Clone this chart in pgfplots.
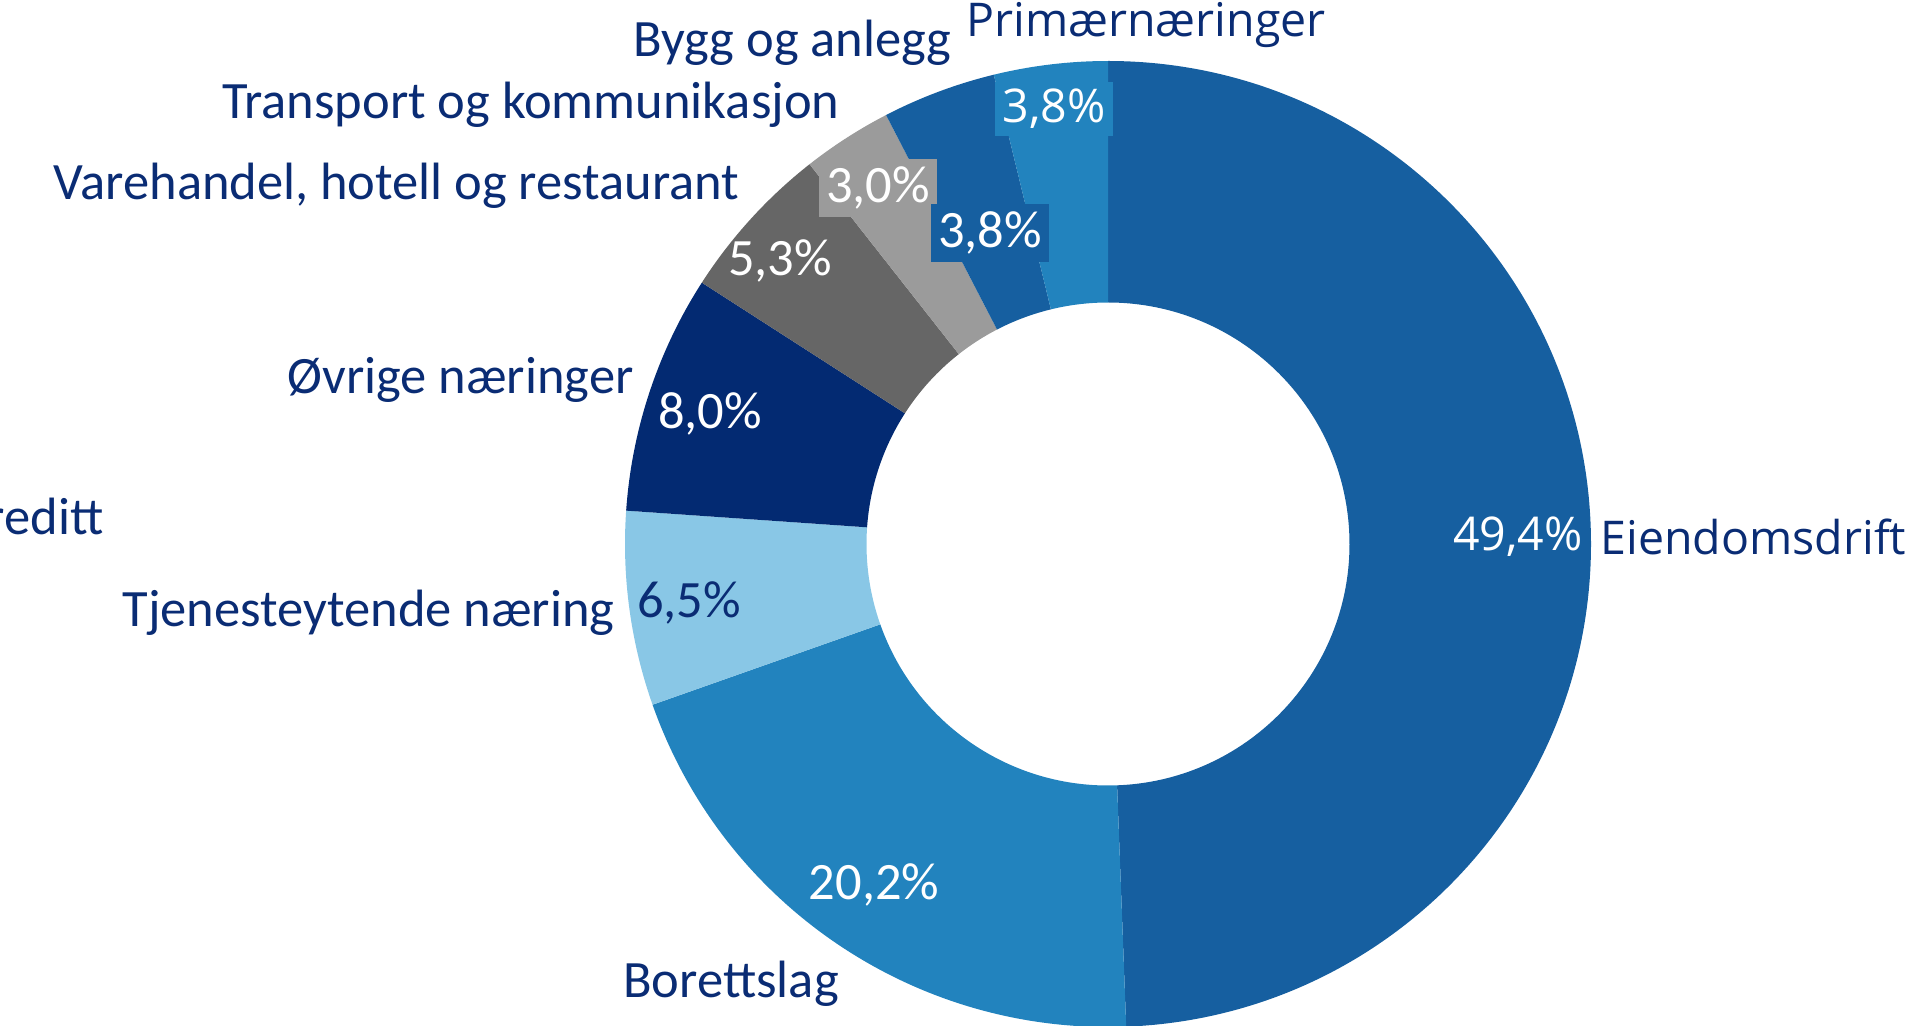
\documentclass[border=0pt]{standalone}
\usepackage{fontspec}
\setmainfont{Carlito}
\newfontfamily\osans{Open Sans}
\usepackage{pgfplots}
\pgfplotsset{compat=1.18}
\usepackage{pgfplotstable}

\definecolor{cA}{HTML}{165FA0}
\definecolor{cB}{HTML}{2283BE}
\definecolor{cC}{HTML}{89C7E6}
\definecolor{cD}{HTML}{032A72}
\definecolor{cE}{HTML}{666666}
\definecolor{cF}{HTML}{9B9B9B}
\definecolor{lab}{HTML}{0A2C74}

% share (%) of each slice, clockwise from 12 o'clock
\pgfplotstableread[col sep=comma]{
value,color
49.4,cA
20.2,cB
6.5,cC
0.0,cD
8.0,cD
5.3,cE
3.0,cF
3.8,cA
3.8,cB
}\slices

\newcommand{\clb}{\fontsize{21}{25}\selectfont}
\newcommand{\osl}{\osans\fontsize{18.6}{22}\selectfont}

\begin{document}
\begin{tikzpicture}
\begin{axis}[x=0.4pt,y=0.4pt,xmin=0,xmax=1922,ymin=0,ymax=1025,
  hide axis, clip=false]
\pgfplotsextra{%
  \gdef\cum{0}%
  \foreach \i in {0,...,8}{%
    \pgfplotstablegetelem{\i}{value}\of\slices \let\v\pgfplotsretval
    \pgfplotstablegetelem{\i}{color}\of\slices \let\c\pgfplotsretval
    \pgfmathsetmacro{\aS}{90-3.6*\cum}%
    \pgfmathsetmacro{\aE}{90-3.6*(\cum+\v)}%
    \ifdim\v pt>0pt
      \fill[fill=\c] (axis cs:1108,481) ++(\aS:193.2pt)
        arc[start angle=\aS, end angle=\aE, radius=193.2pt]
        -- ++(\aE:-96.6pt)
        arc[start angle=\aE, end angle=\aS, radius=96.6pt] -- cycle;
    \fi
    \pgfmathsetmacro{\newcum}{\cum+\v}\xdef\cum{\newcum}%
  }%
}
% category labels
\node[anchor=west,text=lab,inner sep=0pt] at (axis cs:1600,488) {\osl Eiendomsdrift};
\node[text=lab,inner sep=0pt] at (axis cs:731,41) {\clb Borettslag};
\node[anchor=east,text=lab,inner sep=0pt] at (axis cs:615,412) {\clb Tjenesteytende næring};
\node[anchor=east,text=lab,inner sep=0pt] at (axis cs:104,504) {\clb Finansiering og kreditt};
\node[anchor=east,text=lab,inner sep=0pt] at (axis cs:634,645) {\clb Øvrige næringer};
\node[anchor=east,text=lab,inner sep=0pt] at (axis cs:740,839) {\clb Varehandel, hotell og restaurant};
\node[anchor=east,text=lab,inner sep=0pt] at (axis cs:840,920) {\clb Transport og kommunikasjon};
\node[anchor=east,text=lab,inner sep=0pt] at (axis cs:952,982) {\clb Bygg og anlegg};
\node[anchor=west,text=lab,inner sep=0pt] at (axis cs:966,1000) {\osl Primærnæringer};
% value labels
\node[anchor=east,text=white,inner sep=2pt] at (axis cs:1588,488) {\osl 49,4\%};
\node[text=white,inner sep=3pt] at (axis cs:874,140) {\clb 20,2\%};
\node[text=lab,inner sep=3pt] at (axis cs:689,422) {\clb 6,5\%};
\node[text=white,inner sep=3pt] at (axis cs:710,611) {\clb 8,0\%};
\node[text=white,inner sep=3pt] at (axis cs:780,764) {\clb 5,3\%};
\node[fill=cF,text=white,inner sep=3pt] at (axis cs:878,837) {\clb 3,0\%};
\node[fill=cA,text=white,inner sep=3pt] at (axis cs:990,792) {\clb 3,8\%};
\node[fill=cB,text=white,inner sep=3pt] at (axis cs:1054,916) {\osl 3,8\%};
\end{axis}
\pgfresetboundingbox
\path[use as bounding box] (0,0) rectangle (768.8pt,410pt);
\end{tikzpicture}
\end{document}
